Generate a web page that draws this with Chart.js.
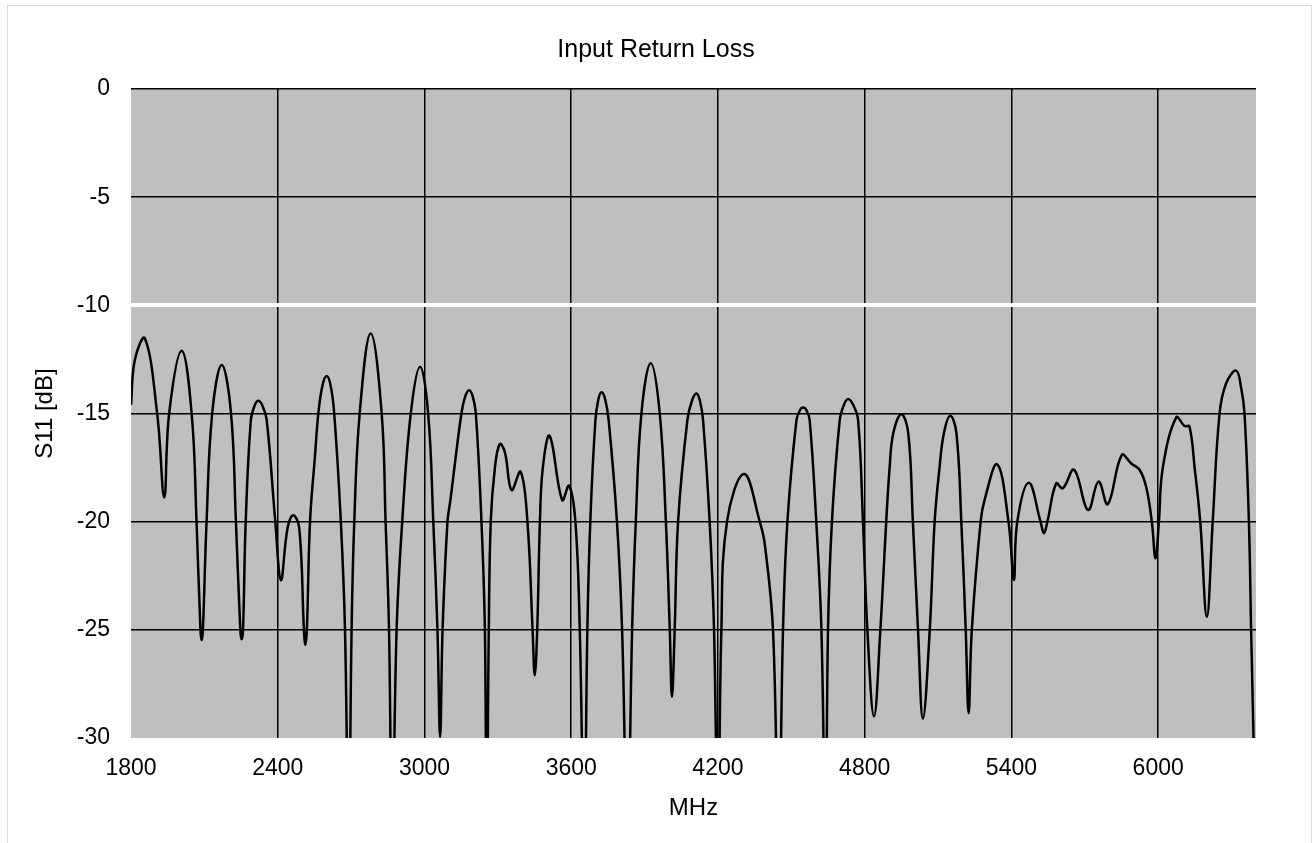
<!DOCTYPE html>
<html>
<head>
<meta charset="utf-8">
<script src="https://cdn.jsdelivr.net/npm/chart.js@4/dist/chart.umd.min.js"></script>
<style>
    html, body { margin: 0; padding: 0; background: #fff; overflow: hidden; }
    #frame { position: absolute; left: 7px; top: 5px; width: 1305px; height: 900px; box-sizing: border-box; border: 1px solid #d9d9d9; }
    #chart { position: absolute; left: 0; top: 0; }
</style>
</head>
<body>
<div id="frame"></div>
<canvas id="chart" width="1312" height="843"></canvas>
<script>
"use strict";
// S11 trace, MHz / dB (rows line up)
var freqMHz = [
    1800, 1816, 1857, 1907, 1936, 1956, 2007, 2048, 2068, 2084,
    2089, 2094, 2109, 2132, 2171, 2209, 2229, 2247, 2252, 2258,
    2269, 2290, 2305, 2320, 2338, 2355, 2390, 2413, 2440, 2463,
    2488, 2507, 2512, 2519, 2532, 2552, 2566, 2583, 2600, 2616,
    2631, 2658, 2675, 2690, 2702, 2713, 2735, 2780, 2825, 2841,
    2855, 2868, 2886, 2909, 2944, 2982, 3015, 3036, 3053, 3064,
    3074, 3094, 3106, 3151, 3167, 3183, 3197, 3210, 3233, 3247,
    3254, 3263, 3271, 3288, 3308, 3329, 3356, 3393, 3421, 3442,
    3451, 3461, 3472, 3484, 3512, 3563, 3591, 3617, 3635, 3653,
    3666, 3678, 3699, 3711, 3724, 3739, 3753, 3787, 3808, 3830,
    3849, 3864, 3887, 3925, 3962, 3987, 4003, 4012, 4023, 4037,
    4075, 4094, 4112, 4126, 4139, 4166, 4184, 4200, 4214, 4237,
    4307, 4371, 4391, 4425, 4448, 4466, 4484, 4521, 4535, 4548,
    4562, 4575, 4602, 4623, 4640, 4650, 4666, 4698, 4715, 4732,
    4753, 4773, 4793, 4811, 4838, 4864, 4888, 4902, 4917, 4950,
    4978, 4997, 5018, 5038, 5066, 5086, 5106, 5124, 5150, 5175,
    5195, 5213, 5225, 5238, 5274, 5290, 5342, 5388, 5410, 5424,
    5471, 5519, 5533, 5547, 5583, 5610, 5656, 5713, 5756, 5794,
    5851, 5890, 5924, 5951, 5974, 5989, 6003, 6019, 6074, 6108,
    6128, 6149, 6172, 6199, 6223, 6251, 6278, 6319, 6339, 6353,
    6371, 6380, 6400
];
var s11dB = [
    -14.6, -12.5, -11.53, -15, -18.88, -15, -12.1, -15, -20, -25,
    -25.47, -25, -20, -15, -12.76, -15, -20, -25, -25.44, -25,
    -20, -15.3, -14.65, -14.41, -14.65, -15.3, -20, -22.7, -20.3, -19.7,
    -20.3, -25, -25.7, -25, -20, -17, -15, -13.7, -13.27, -13.7,
    -15, -20, -25, -35, -25, -20, -15, -11.3, -15, -20,
    -25, -35, -25, -20, -15, -12.84, -15, -20, -25, -29.95,
    -25, -20, -19, -15, -14.2, -13.92, -14.2, -15, -20, -25,
    -35, -25, -20, -17.5, -16.41, -16.8, -18.54, -17.69, -20, -25,
    -27.1, -25, -20, -17.5, -16.04, -19, -18.34, -20, -25, -35,
    -25, -20, -15.3, -14.35, -14.02, -14.35, -15.3, -20, -25, -35,
    -25, -20, -15, -12.68, -15, -20, -25, -28.1, -25, -20,
    -15.3, -14.4, -14.07, -14.4, -15.3, -20, -25, -35, -25, -20,
    -17.8, -20, -21, -25, -35, -25, -20, -15.3, -14.85, -14.72,
    -14.85, -15.3, -20, -25, -35, -25, -20, -15.3, -14.6, -14.33,
    -14.6, -15.3, -20, -25, -29, -25, -20, -17.5, -15.9, -15.03,
    -15.9, -20, -25, -29.1, -25, -20, -17.5, -15.9, -15.1, -15.9,
    -20, -25, -28.86, -25, -20, -19, -17.35, -20, -22.7, -20,
    -18.2, -20, -20.54, -20, -18.23, -18.46, -17.6, -19.46, -18.15, -19.19,
    -16.92, -17.31, -17.6, -18.4, -20, -21.7, -20, -17.5, -15.18, -15.58,
    -15.6, -17.5, -20, -24.4, -20, -15, -13.6, -13.02, -13.8, -15,
    -20, -25, -35
];
var xTickValues = [1800, 2400, 3000, 3600, 4200, 4800, 5400, 6000];
var yTickValues = [0, -5, -10, -15, -20, -25, -30];

var FONT = '"Liberation Sans", Arial, sans-serif';

var points = freqMHz.map(function (f, i) {
    return {x: f, y: s11dB[i]};
});

// grey plot background
var plotBackground = {
    id: 'plotBackground',
    beforeDraw: function (chart) {
        var a = chart.chartArea;
        var ctx = chart.ctx;
        ctx.save();
        ctx.fillStyle = '#bfbfbf';
        ctx.fillRect(a.left, a.top, a.right - a.left, a.bottom - a.top);
        ctx.restore();
    }
};

new Chart(document.getElementById('chart'), {
    type: 'line',
    data: {
        datasets: [{
            label: 'S11',
            data: points,
            borderColor: '#000',
            borderWidth: 2.5,
            pointRadius: 0,
            fill: false,
            tension: 0.4,
            clip: 0
        }]
    },
    plugins: [plotBackground],
    options: {
        responsive: false,
        devicePixelRatio: 1,
        animation: false,
        elements: {line: {capBezierPoints: false}},
        layout: {padding: {left: 0, right: 0, top: 35, bottom: 0}},
        plugins: {
            legend: {display: false},
            tooltip: {enabled: false},
            title: {
                display: true,
                text: 'Input Return Loss',
                color: '#000',
                font: {family: FONT, size: 25, weight: 'normal', lineHeight: 1.2},
                padding: {top: 0, bottom: 24}
            }
        },
        scales: {
            x: {
                type: 'linear',
                min: 1800,
                max: 6400,
                afterFit: function (scale) { scale.height = 105; },
                afterBuildTicks: function (scale) {
                    scale.ticks = xTickValues.map(function (v) { return {value: v}; });
                },
                border: {display: false},
                grid: {
                    drawTicks: false,
                    color: function (c) { return c.tick && c.tick.value === 1800 ? 'rgba(0,0,0,0)' : '#000'; },
                    lineWidth: 1.5
                },
                ticks: {
                    color: '#000',
                    padding: 17,
                    maxRotation: 0,
                    font: {family: FONT, size: 23},
                    callback: function (v) { return String(v); }
                },
                title: {
                    display: true,
                    text: 'MHz',
                    color: '#000',
                    font: {family: FONT, size: 24},
                    padding: {top: 0, bottom: 20.6}
                }
            },
            y: {
                type: 'linear',
                min: -30,
                max: 0,
                afterFit: function (scale) { scale.width = 131; },
                afterBuildTicks: function (scale) {
                    scale.ticks = yTickValues.map(function (v) { return {value: v}; });
                },
                border: {display: false},
                grid: {
                    drawTicks: false,
                    color: function (c) {
                        if (!c.tick) return '#000';
                        if (c.tick.value === -10) return '#fff';
                        if (c.tick.value === -30) return 'rgba(0,0,0,0)';
                        return '#000';
                    },
                    lineWidth: function (c) { return c.tick && c.tick.value === -10 ? 4 : 1.5; }
                },
                ticks: {
                    color: '#000',
                    padding: 21,
                    font: {family: FONT, size: 23},
                    callback: function (v) { return String(v); }
                },
                title: {
                    display: true,
                    text: 'S11 [dB]',
                    color: '#000',
                    font: {family: FONT, size: 24},
                    padding: {top: 30.6, bottom: 0}
                }
            },
            // empty right margin so the title centres on the whole page
            spacer: {
                type: 'linear',
                position: 'right',
                min: 0,
                max: 1,
                afterFit: function (scale) { scale.width = 56; },
                border: {display: false},
                grid: {display: false},
                ticks: {display: false}
            }
        }
    }
});
</script>
</body>
</html>
